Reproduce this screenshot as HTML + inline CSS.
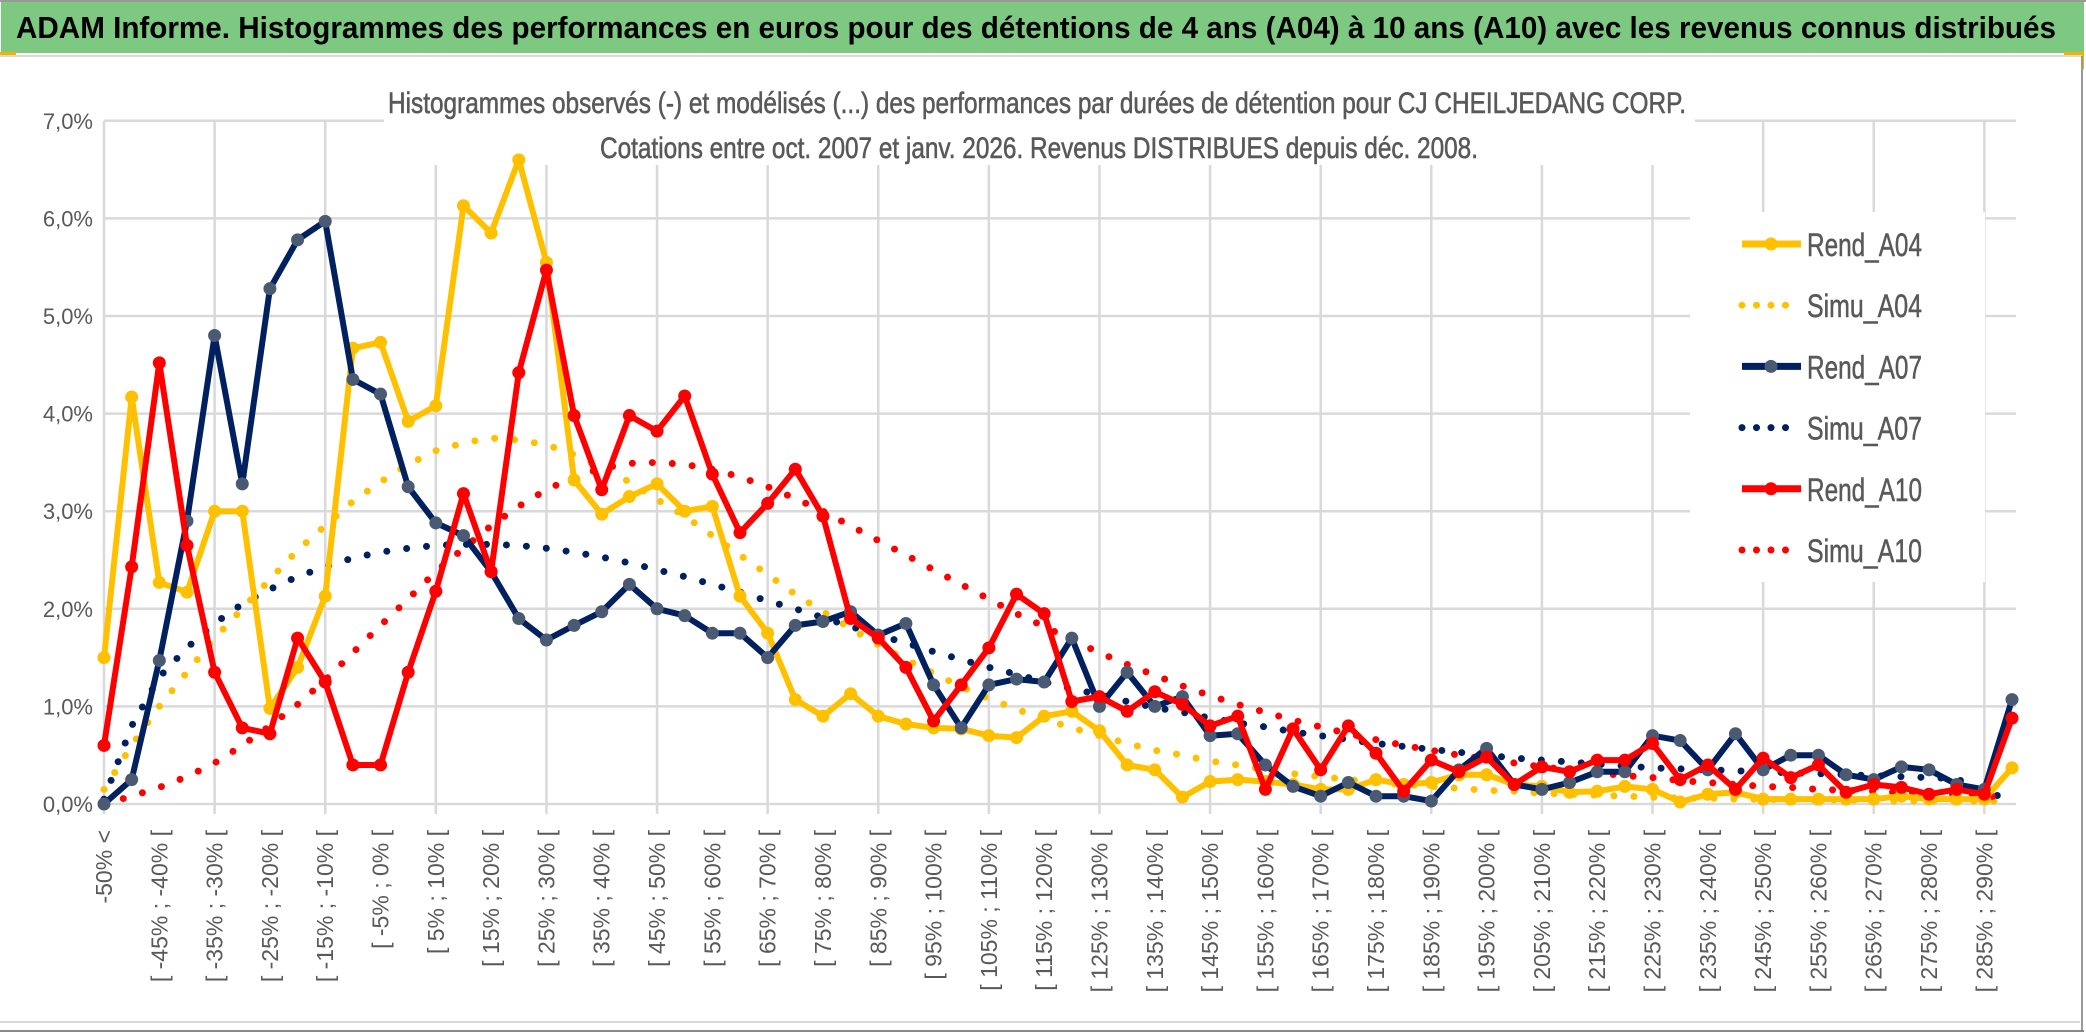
<!DOCTYPE html>
<html><head><meta charset="utf-8"><style>
html,body{margin:0;padding:0;background:#fff;}
svg{display:block;font-family:"Liberation Sans",sans-serif;}
</style></head><body>
<svg id="chart" width="2086" height="1033" viewBox="0 0 2086 1033" xmlns="http://www.w3.org/2000/svg">
<rect x="0" y="0" width="2086" height="1033" fill="#fff"/>
<rect x="1" y="2" width="2083" height="51" fill="#7dc982"/>
<line x1="0" y1="1" x2="2086" y2="1" stroke="#999" stroke-width="2"/>
<text x="16" y="38" font-size="31" font-weight="bold" fill="#000" textLength="2040" lengthAdjust="spacingAndGlyphs">ADAM Informe. Histogrammes des performances en euros pour des détentions de 4 ans (A04) à 10 ans (A10) avec les revenus connus distribués</text>
<rect x="0" y="52" width="16" height="3" fill="#f0b400"/>
<rect x="2064" y="52" width="20" height="3" fill="#f0b400"/>
<rect x="2081" y="52" width="3" height="17" fill="#f0b400"/>
<line x1="0" y1="56" x2="2082" y2="56" stroke="#d9d9d9" stroke-width="2"/>
<line x1="2082" y1="56" x2="2082" y2="1030" stroke="#999" stroke-width="2"/>
<line x1="0" y1="1022" x2="2080" y2="1022" stroke="#d9d9d9" stroke-width="2"/>
<line x1="0" y1="1031" x2="2084" y2="1031" stroke="#888" stroke-width="2"/>
<g id="grid"></g>
<rect x="384" y="70" width="1311" height="95" fill="#fff"/>
<text x="1037" y="113" font-size="30" fill="#595959" stroke="#595959" stroke-width="0.6" text-anchor="middle" textLength="1298" lengthAdjust="spacingAndGlyphs">Histogrammes observés (-) et modélisés (...) des performances par durées de détention pour CJ CHEILJEDANG CORP.</text>
<text x="1039" y="158" font-size="30" fill="#595959" stroke="#595959" stroke-width="0.6" text-anchor="middle" textLength="878" lengthAdjust="spacingAndGlyphs">Cotations entre oct. 2007 et janv. 2026. Revenus DISTRIBUES depuis déc. 2008.</text>
<g id="yaxis"></g>
<g id="xaxis"></g>
<g id="series"></g>
<g id="legend"></g>
</svg>
<script>
const categoriesCount = 70;
const yTicks = [0,1,2,3,4,5,6,7];
const rendA04 = [1.5,4.17,2.27,2.17,3.0,3.0,0.98,1.4,2.13,4.67,4.73,3.92,4.08,6.13,5.85,6.6,5.55,3.32,2.97,3.15,3.28,3.0,3.05,2.13,1.75,1.07,0.9,1.13,0.9,0.82,0.78,0.77,0.7,0.68,0.9,0.95,0.75,0.4,0.35,0.07,0.23,0.25,0.23,0.2,0.15,0.15,0.25,0.2,0.22,0.3,0.3,0.2,0.18,0.12,0.13,0.18,0.15,0.02,0.1,0.12,0.05,0.05,0.05,0.05,0.05,0.08,0.05,0.05,0.05,0.37];
const rendA07 = [0,0.25,1.47,2.9,4.8,3.28,5.28,5.78,5.97,4.35,4.2,3.25,2.88,2.75,2.38,1.9,1.68,1.83,1.97,2.25,2.0,1.93,1.75,1.75,1.5,1.83,1.87,1.97,1.73,1.85,1.22,0.78,1.22,1.28,1.25,1.7,1.0,1.35,1.0,1.1,0.7,0.72,0.4,0.18,0.08,0.22,0.08,0.08,0.03,0.35,0.57,0.2,0.15,0.22,0.33,0.33,0.7,0.65,0.35,0.72,0.35,0.5,0.5,0.3,0.25,0.38,0.35,0.2,0.15,1.07];
const rendA10 = [0.6,2.43,4.52,2.65,1.35,0.78,0.72,1.7,1.25,0.4,0.4,1.35,2.18,3.18,2.38,4.42,5.47,3.98,3.22,3.98,3.82,4.18,3.38,2.78,3.08,3.43,2.95,1.9,1.7,1.4,0.85,1.22,1.6,2.15,1.95,1.05,1.1,0.95,1.15,1.02,0.8,0.9,0.15,0.77,0.35,0.8,0.52,0.13,0.45,0.33,0.48,0.2,0.38,0.33,0.45,0.45,0.62,0.25,0.4,0.15,0.47,0.27,0.4,0.12,0.2,0.17,0.1,0.15,0.1,0.88];
const simuA04 = [0.15,0.6,1.0,1.35,1.7,2.0,2.3,2.6,2.85,3.1,3.3,3.48,3.62,3.7,3.75,3.73,3.68,3.58,3.45,3.3,3.12,2.95,2.75,2.55,2.35,2.15,1.97,1.8,1.63,1.48,1.34,1.2,1.08,0.97,0.87,0.78,0.7,0.62,0.55,0.5,0.44,0.4,0.35,0.31,0.28,0.25,0.22,0.2,0.18,0.16,0.14,0.13,0.11,0.1,0.09,0.08,0.07,0.06,0.06,0.05,0.05,0.04,0.04,0.04,0.03,0.03,0.03,0.03,0.03,0.03];
const simuA07 = [0.05,0.8,1.3,1.6,1.85,2.05,2.2,2.33,2.43,2.52,2.58,2.62,2.65,2.66,2.66,2.65,2.62,2.58,2.53,2.47,2.4,2.33,2.25,2.17,2.08,2.0,1.91,1.82,1.73,1.65,1.56,1.48,1.4,1.33,1.25,1.18,1.12,1.05,0.99,0.94,0.88,0.83,0.79,0.74,0.7,0.66,0.62,0.59,0.56,0.53,0.5,0.47,0.45,0.43,0.41,0.39,0.37,0.36,0.35,0.34,0.33,0.32,0.31,0.3,0.29,0.28,0.27,0.26,0.12,0.05];
const simuA10 = [0.0,0.08,0.17,0.28,0.42,0.6,0.8,1.02,1.27,1.55,1.83,2.1,2.38,2.62,2.85,3.05,3.22,3.35,3.44,3.49,3.5,3.48,3.43,3.35,3.25,3.13,3.0,2.85,2.7,2.55,2.4,2.25,2.1,1.95,1.82,1.68,1.55,1.43,1.32,1.21,1.11,1.02,0.94,0.86,0.79,0.72,0.66,0.6,0.55,0.5,0.46,0.42,0.38,0.35,0.32,0.29,0.27,0.24,0.22,0.2,0.18,0.17,0.15,0.14,0.13,0.12,0.11,0.1,0.09,0.05];
const legendLabels = ["Rend_A04","Simu_A04","Rend_A07","Simu_A07","Rend_A10","Simu_A10"];

const NS="http://www.w3.org/2000/svg";
const X0=104, X1=2012, Y0=804, YPER=97.6;
function xs(i){return X0+(X1-X0)/(categoriesCount-1)*i;}
function ys(v){return Y0-v*YPER;}
function mk(tag,attrs,parent){const e=document.createElementNS(NS,tag);for(const k in attrs)e.setAttribute(k,attrs[k]);parent.appendChild(e);return e;}
function catLabel(i){if(i===0)return "-50% <";const a=-50+5*(i-1);return "[ "+a+"% ; "+(a+5)+"% [";}

const grid=document.getElementById('grid');
yTicks.forEach(t=>{const l=mk('line',{x1:X0,x2:2016,y1:ys(t),y2:ys(t),stroke:'#d9d9d9','stroke-width':2.5},grid);

});
for(let i=0;i<categoriesCount;i+=4){const l=mk('line',{x1:xs(i),x2:xs(i),y1:ys(7),y2:Y0+10,stroke:'#d9d9d9','stroke-width':2.5},grid);

}

const yax=document.getElementById('yaxis');
yTicks.forEach(t=>{const tx=mk('text',{x:93,y:ys(t)+8,'font-size':22,fill:'#595959','text-anchor':'end'},yax);tx.textContent=t.toFixed(1).replace('.',',')+'%';

});

const xax=document.getElementById('xaxis');
for(let i=0;i<categoriesCount;i+=2){const x=xs(i)+8,y=830;const tx=mk('text',{x:x,y:y,'font-size':23,fill:'#595959','text-anchor':'end',transform:'rotate(-90 '+x+' '+y+')'},xax);tx.textContent=catLabel(i);

}

const ser=document.getElementById('series');
function pts(arr){return arr.map((v,i)=>xs(i).toFixed(1)+','+ys(v).toFixed(1)).join(' ');}
function dotted(arr,color,name){const p=mk('polyline',{points:pts(arr),fill:'none',stroke:color,'stroke-width':7,'stroke-linecap':'round','stroke-dasharray':'0 20'},ser);

}
function solid(arr,color,mcolor,name){const g=mk('g',{},ser);


mk('polyline',{points:pts(arr),fill:'none',stroke:color,'stroke-width':6,'stroke-linejoin':'round'},g);
arr.forEach((v,i)=>{const c=mk('circle',{cx:xs(i),cy:ys(v),r:6.5,fill:mcolor},g);

});}
dotted(simuA04,'#ffc000','simu-a04-line');
dotted(simuA07,'#002060','simu-a07-line');
dotted(simuA10,'#ff0000','simu-a10-line');
solid(rendA04,'#ffc000','#ffc000','rend-a04-line');
solid(rendA07,'#002060','#4a5a72','rend-a07-line');
solid(rendA10,'#ff0000','#ff0000','rend-a10-line');

const leg=document.getElementById('legend');
const lb=mk('rect',{x:1690,y:212,width:295,height:370,fill:'#fff'},leg);


const lc=['#ffc000','#ffc000','#002060','#002060','#ff0000','#ff0000'];
const lm=['#ffc000',null,'#4a5a72',null,'#ff0000',null];
legendLabels.forEach((s,k)=>{const y=244+k*61.2;const g=mk('g',{},leg);


if(k%2===0){mk('line',{x1:1742,x2:1801,y1:y,y2:y,stroke:lc[k],'stroke-width':7},g);mk('circle',{cx:1771,cy:y,r:6.5,fill:lm[k]},g);}
else{mk('line',{x1:1742,x2:1800,y1:y,y2:y,stroke:lc[k],'stroke-width':7,'stroke-linecap':'round','stroke-dasharray':'0 14.5'},g);}
const t=mk('text',{x:1807,y:y+12,'font-size':32,fill:'#595959',stroke:'#595959','stroke-width':0.5,textLength:115,lengthAdjust:'spacingAndGlyphs'},g);t.textContent=s;});
</script>
</body></html>
